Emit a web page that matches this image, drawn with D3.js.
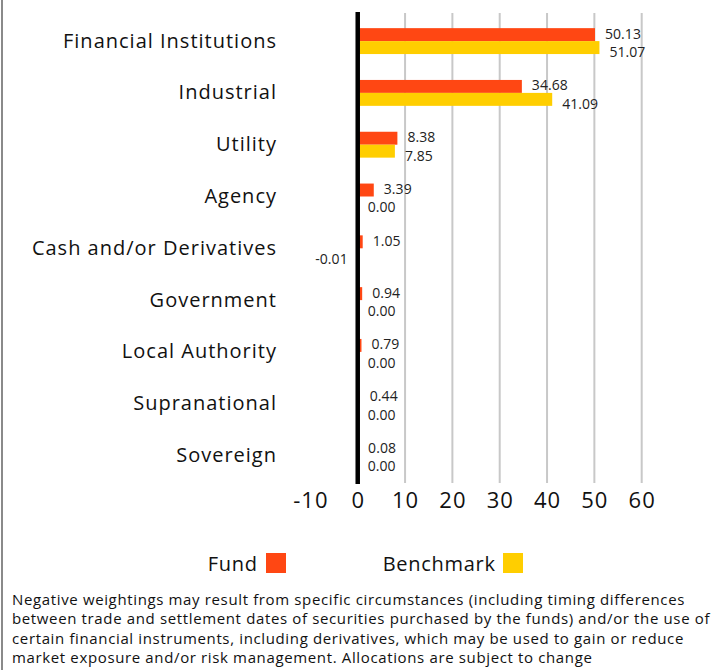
<!DOCTYPE html>
<html><head><meta charset="utf-8">
<script src="https://cdn.jsdelivr.net/npm/d3@7/dist/d3.min.js"></script>
<style>
html,body{margin:0;padding:0;background:#fff;}
svg{display:block;font-family:"Open Sans",sans-serif;}
</style></head>
<body>
<script>
const categories = ["Financial Institutions","Industrial","Utility","Agency","Cash and/or Derivatives","Government","Local Authority","Supranational","Sovereign"];
const fundValues = [50.13,34.68,8.38,3.39,1.05,0.94,0.79,0.44,0.08];
const benchmarkValues = [51.07,41.09,7.85,0.00,-0.01,0.00,0.00,0.00,0.00];
const tickValues = [-10,0,10,20,30,40,50,60];
const seriesNames = ["Fund","Benchmark"];
const seriesColors = ["#FF4713","#FFCE00"];
const footnote = [
 "Negative weightings may result from specific circumstances (including timing differences",
 "between trade and settlement dates of securities purchased by the funds) and/or the use of",
 "certain financial instruments, including derivatives, which may be used to gain or reduce",
 "market exposure and/or risk management. Allocations are subject to change"
];

const W=718,H=670;
const svg=d3.select("body").append("svg").attr("width",W).attr("height",H);

function fitSpacing(sel, refText, target){
  const t=svg.append("text").attr("font-size",sel.attr("font-size")).attr("font-family",sel.attr("font-family")||"Open Sans").text(refText);
  const w=t.node().getComputedTextLength(); t.remove();
  return (target-w)/(refText.length);
}

// left border
svg.append("rect").attr("x",1).attr("y",0).attr("width",2).attr("height",H).attr("fill","#8a8a8a");

const x=d3.scaleLinear().domain([-10,60]).range([310.4,641.7]);
const y=d3.scaleBand().domain(categories).range([15.2,481.4]).padding(0);
const barH=y.bandwidth()*0.25;
const plotTop=13, plotBottom=483;
const hy=s=>s.replace("\u2212","-");

// gridlines
svg.append("g").selectAll("line").data(tickValues.filter(t=>t>0)).join("line")
 .attr("x1",d=>x(d)).attr("x2",d=>x(d)).attr("y1",plotTop).attr("y2",plotBottom)
 .attr("stroke","#c8c8c8").attr("stroke-width",2);

// axis tick labels
const xAxis=d3.axisBottom(x).tickValues(tickValues).tickSize(0).tickPadding(0).tickFormat(d=>hy(d3.format("d")(d)));
const ax=svg.append("g").attr("transform",`translate(0,${plotBottom})`).call(xAxis);
ax.select(".domain").remove();
ax.selectAll("text").attr("dy","0").attr("y",25).attr("font-size",22).attr("fill","#111")
 .attr("font-family","Open Sans").attr("letter-spacing","1px");

// category labels
const catG=svg.append("g").attr("font-size",20).attr("font-family","Open Sans");
const catLS=fitSpacing(catG,"Financial Institutions",214);
catG.selectAll("text").data(categories).join("text")
 .attr("x",276+catLS).attr("y",d=>y(d)+y.bandwidth()/2-0.5).attr("dy","0.35em")
 .attr("letter-spacing",catLS)
 .attr("text-anchor","end").attr("fill","#111").text(d=>d);

// bars
const rows=categories.map((c,i)=>({c,f:fundValues[i],b:benchmarkValues[i]}));
const cy=d=>y(d.c)+y.bandwidth()/2;
svg.append("g").selectAll("rect").data(rows).join("rect")
 .attr("x",d=>x(Math.min(0,d.f))).attr("width",d=>Math.abs(x(d.f)-x(0)))
 .attr("y",d=>cy(d)-barH).attr("height",barH).attr("fill",seriesColors[0]);
svg.append("g").selectAll("rect").data(rows).join("rect")
 .attr("x",d=>x(Math.min(0,d.b))).attr("width",d=>Math.abs(x(d.b)-x(0)))
 .attr("y",d=>cy(d)).attr("height",barH).attr("fill",seriesColors[1]);

// value labels
const fmt=v=>hy(d3.format(".2f")(v));
const valG=svg.append("g").attr("font-size",14).attr("font-family","Open Sans");
const valLS=fitSpacing(valG,"50.13",36);
function lab(sel,key,dyOff){
 sel.attr("x",d=>d[key]<0?x(d[key])-10+valLS:x(Math.max(0,d[key]))+10)
  .attr("text-anchor",d=>d[key]<0?"end":"start")
  .attr("letter-spacing",valLS)
  .attr("y",d=>cy(d)+dyOff).attr("dy","0.35em")
  .attr("fill","#222").text(d=>fmt(d[key]));
}
valG.append("g").selectAll("text").data(rows).join("text").call(lab,"f",-barH/2-1);
valG.append("g").selectAll("text").data(rows).join("text").call(lab,"b",barH/2+4.5);

// zero axis line
svg.append("line").attr("x1",x(0)).attr("x2",x(0)).attr("y1",12).attr("y2",484)
 .attr("stroke","#000").attr("stroke-width",4.5);

// legend
const leg=[{n:seriesNames[0],c:seriesColors[0],tx:257,sx:266},{n:seriesNames[1],c:seriesColors[1],tx:495,sx:503}];
const lg=svg.append("g").attr("font-size",20).attr("font-family","Open Sans");
const legLS=fitSpacing(lg,"Benchmark",113);
lg.selectAll("text").data(leg).join("text").attr("x",d=>d.tx+legLS).attr("y",571)
 .attr("letter-spacing",legLS)
 .attr("text-anchor","end").attr("fill","#111").text(d=>d.n);
lg.selectAll("rect").data(leg).join("rect").attr("x",d=>d.sx).attr("y",553)
 .attr("width",20).attr("height",20).attr("fill",d=>d.c);

// footnote
const fg=svg.append("g").attr("font-size",15).attr("font-family","Open Sans");
const fLS=fitSpacing(fg,footnote[0],673);
fg.selectAll("text").data(footnote).join("text")
 .attr("x",12).attr("y",(d,i)=>604.5+i*19.5).attr("fill","#111")
 .attr("letter-spacing",fLS).text(d=>d);
</script>
</body></html>
